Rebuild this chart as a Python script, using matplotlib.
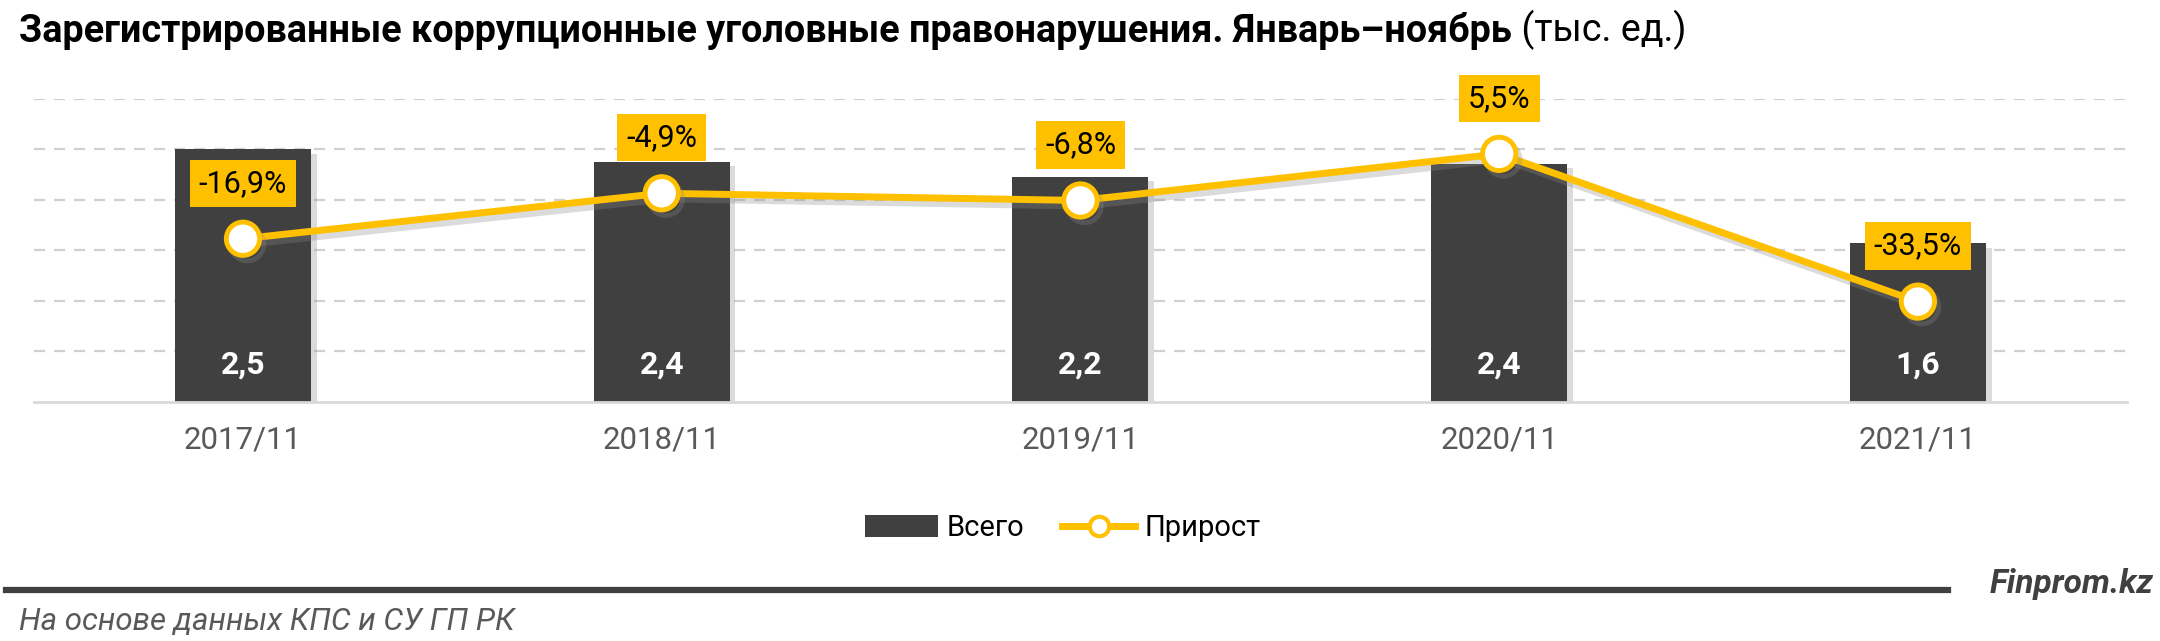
import matplotlib
matplotlib.use("Agg")
import matplotlib.pyplot as plt
import matplotlib.patheffects as pe
from matplotlib.lines import Line2D
from matplotlib.patches import Patch

# data
periods = ["2017/11", "2018/11", "2019/11", "2020/11", "2021/11"]
totals = [2.50, 2.38, 2.23, 2.36, 1.57]          # тыс. ед.
growth = [-16.9, -4.9, -6.8, 5.5, -33.5]         # %

DARK = "#404040"
YELLOW = "#FFC000"
GRID = "#D0D0D0"
TXT = "#595959"

plt.rcParams["font.family"] = ["Roboto", "DejaVu Sans"]

fig = plt.figure(figsize=(21.6, 6.41), dpi=100)
ax = fig.add_axes([0.01556, 0.3729, 0.9693, 0.4727])
ax2 = ax.twinx()
x = list(range(len(periods)))

bars = ax.bar(x, totals, width=0.325, color=DARK, zorder=2)
for b in bars:
    b.set_path_effects([pe.SimplePatchShadow(offset=(4, -3), shadow_rgbFace="#999999", alpha=0.35), pe.Normal()])
for xi, v in zip(x, totals):
    ax.text(xi, 0.37, f"{v:.1f}".replace(".", ","), color="white", fontsize=23,
            fontweight="bold", ha="center", va="center", zorder=3)

ax.set_xlim(-0.5, len(periods) - 0.5)
ax.set_ylim(0, 3.0)
ax.set_yticks([0.5, 1.0, 1.5, 2.0, 2.5, 3.0])
ax.yaxis.grid(True, color=GRID, linestyle=(0, (5, 4)), linewidth=1.6, zorder=0)
ax.set_axisbelow(True)
ax.tick_params(axis="y", left=False, right=False, labelleft=False, labelright=False)
ax.tick_params(axis="x", length=0, pad=17, labelsize=22.5, labelcolor=TXT)
ax.set_xticks(x)
ax.set_xticklabels(periods)
for s in ["top", "left", "right"]:
    ax.spines[s].set_visible(False)
ax.spines["bottom"].set_color("#D9D9D9")
ax.spines["bottom"].set_linewidth(2)

ax2.set_ylim(-60, 20)
ax2.axis("off")
ax2.plot(x, growth, color=YELLOW, linewidth=5, marker="o", markersize=24,
         markerfacecolor="white", markeredgecolor=YELLOW, markeredgewidth=3.5,
         path_effects=[pe.SimpleLineShadow(offset=(3, -4), shadow_color="#888888", alpha=0.3), pe.Normal()],
         zorder=4)
for xi, g in zip(x, growth):
    ax2.annotate(f"{g:.1f}%".replace(".", ","), (xi, g), xytext=(0, 40), textcoords="offset points",
                 ha="center", va="center", fontsize=22, color="black",
                 bbox=dict(boxstyle="square,pad=0.3", fc=YELLOW, ec="none"), zorder=5)

# title
t1 = fig.text(0.009, 0.9345, "Зарегистрированные коррупционные уголовные правонарушения. Январь–ноябрь",
              fontsize=27.2, fontweight="bold", color="black", va="baseline")
fig.canvas.draw()
ax.annotate(" (тыс. ед.)", xy=(1, 0), xycoords=t1, xytext=(0, 0), textcoords="offset points",
            va="bottom", ha="left", fontsize=27.2, color="black", annotation_clip=False)

# legend
handles = [Patch(facecolor=DARK, label="Всего"),
           Line2D([0], [0], color=YELLOW, linewidth=5, marker="o", markersize=14,
                  markerfacecolor="white", markeredgecolor=YELLOW, markeredgewidth=3, label="Прирост")]
fig.legend(handles=handles, loc="center", bbox_to_anchor=(0.492, 0.176), ncol=2, frameon=False,
           fontsize=21, handlelength=2.5, handleheight=0.8, columnspacing=1.3, handletextpad=0.3)

# footer
fig.add_artist(Line2D([0.003, 0.902], [0.0796, 0.0796], color="#404040", linewidth=4.5))
fig.text(0.997, 0.075, "Finprom.kz", fontsize=24, style="italic", fontweight="bold",
         color="#404040", ha="right", va="baseline")
fig.text(0.009, 0.031, "На основе данных КПС и СУ ГП РК", fontsize=22.5, style="italic",
         color=TXT, ha="left", va="center")

fig.savefig("out.png", dpi=100)
